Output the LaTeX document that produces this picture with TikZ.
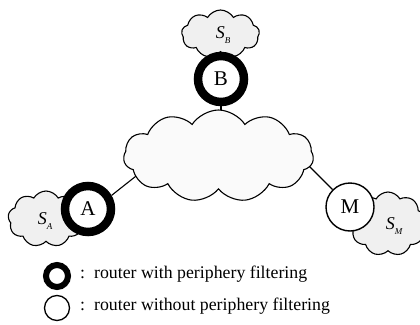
\documentclass[tikz,border=0pt]{standalone}
\usepackage{fontspec}
\setmainfont{Liberation Serif}
\usetikzlibrary{shapes.symbols,backgrounds}
\tikzset{
  net/.style={cloud, cloud puffs=11, cloud puff arc=115, cloud ignores aspect, draw, line width=1.1pt, fill=black!2, inner sep=0pt},
  site/.style={cloud, cloud puffs=9, cloud puff arc=120, cloud ignores aspect, draw, line width=1.1pt, fill=black!6, inner sep=0pt},
  filt/.style={circle, draw, line width=8.5pt, fill=white, minimum size=46pt, inner sep=0pt, font=\fontsize{21}{21}\selectfont},
  nofilt/.style={circle, draw, line width=1.4pt, fill=white, minimum size=48pt, inner sep=0pt, font=\fontsize{21}{21}\selectfont},
  link/.style={line width=1.1pt},
  lab/.style={inner sep=0pt, font=\fontsize{17.8}{20}\selectfont}
}
\newcommand{\sitelab}[1]{{\fontsize{18}{18}\selectfont\itshape S}\raisebox{-5pt}{\fontsize{9}{9}\selectfont\itshape #1}}
\begin{document}
\begin{tikzpicture}[x=1pt,y=-1pt]
\useasboundingbox (0,0) rectangle (420,324);
% clouds
\node[net, minimum width=190pt, minimum height=92pt] (core) at (218.5,156) {};
\node[site, minimum width=78pt, minimum height=48pt] (SB) at (220.5,34) {};
\node[site, minimum width=76pt, minimum height=56pt] (SA) at (46,219) {};
\node[site, minimum width=76pt, minimum height=64pt] (SM) at (388,224) {};
\node[lab] (SBl) at (223,35) {\sitelab{B}};
\node[lab] (SAl) at (45,221) {\sitelab{A}};
\node[lab] (SMl) at (394,226) {\sitelab{M}};
% routers
\node[filt] (B) at (221,79) {B};
\node[filt] (A) at (88,209) {A};
\node[nofilt] (M) at (350,207) {M};
% link end points inside the core cloud
\coordinate (cA) at (150,165);
\coordinate (cB) at (221,140);
\coordinate (cM) at (295,152);
\begin{pgfonlayer}{background}
\draw[link] (A.30) -- (cA);
\draw[link] (B) -- (cB);
\draw[link] (M) -- (cM);
\end{pgfonlayer}
% legend
\node[circle, draw, line width=6pt, minimum size=22pt, inner sep=0pt] (L1) at (57,276) {};
\node[circle, draw, line width=1.3pt, minimum size=25pt, inner sep=0pt] (L2) at (57,308) {};
\node[lab, anchor=mid west] (T1) at (80,276) {:\hspace{9pt}router with periphery filtering};
\node[lab, anchor=mid west] (T2) at (80,308) {:\hspace{9pt}router without periphery filtering};
\end{tikzpicture}
\end{document}
